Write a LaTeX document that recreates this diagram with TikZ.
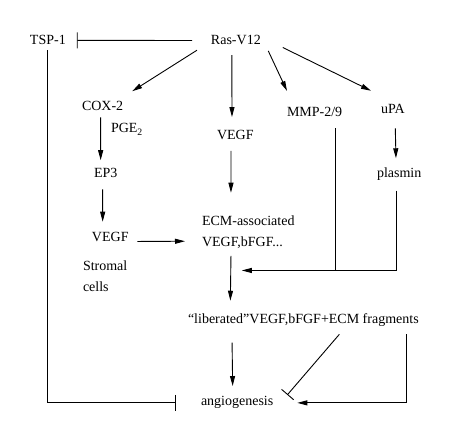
\documentclass[tikz,border=0pt]{standalone}
\usepackage{fontspec}
\setmainfont{Liberation Serif}
\usetikzlibrary{%
  arrows.meta,
  positioning,
  calc}
\tikzset{
  %% Pathway labels
  molnode/.style={
    inner sep=0pt, outer sep=0pt,
    font=\fontsize{14}{21}\selectfont},
  %% Arrows
  arrow/.style={-{Triangle[length=10pt,width=5pt]}, line width=0.9pt, black},
  inhibit/.style={-{Bar[width=16pt]}, line width=0.9pt, black},
  plainline/.style={line width=0.9pt, black},
}
\begin{document}
\begin{tikzpicture}[x=1pt, y=-1pt]

  \useasboundingbox (0,0) rectangle (451,443);

  %% Top row
  \node[molnode, anchor=base west] (tsp) at (30,45) {TSP-1};
  \node[molnode, anchor=base west] (ras) at (211,45) {Ras-V12};

  %% Ras targets
  \node[molnode, anchor=base west] (cox)   at (82,111)  {COX-2};
  \node[molnode, anchor=base west] (pge)   at (111,133) {PGE\textsubscript{2}};
  \node[molnode, anchor=base west] (vegfc) at (217,140) {VEGF};
  \node[molnode, anchor=base west] (mmp)   at (287,117) {MMP-2/9};
  \node[molnode, anchor=base west] (upa)   at (381,114) {uPA};

  %% Stromal branch
  \node[molnode, anchor=base west] (ep3)   at (94,178)  {EP3};
  \node[molnode, anchor=base west] (vegfs) at (92,242)  {VEGF};
  \node[molnode, anchor=north west, align=left] (stromal) at (83,260.4)
        {Stromal\\cells};

  %% Protease branch
  \node[molnode, anchor=base west] (plasmin) at (377,178) {plasmin};

  %% Matrix and outcome
  \node[molnode, anchor=north west, align=left] (ecm) at (202,215.4)
        {ECM-associated\\VEGF,bFGF...};
  \node[molnode, anchor=base west] (lib) at (188,324)
        {“liberated”VEGF,bFGF+ECM fragments};
  \node[molnode, anchor=base west] (ang) at (201,406) {angiogenesis};

  %% TSP-1 loop
  \draw[inhibit, shorten <=19pt, shorten >=11pt] (ras) -- (tsp);
  \draw[inhibit, shorten <=5pt, shorten >=25pt] (tsp.south) |- (ang.west);

  %% Ras-V12 fan
  \draw[arrow] ([xshift=-14pt,yshift=-5pt]ras.south west)
        -- ([xshift=9pt,yshift=10.5pt]cox.north east);
  \draw[arrow] ([xshift=-4pt,yshift=-10pt]ras.south)
        -- ([xshift=-3.3pt,yshift=13.7pt]vegfc.north);
  \draw[arrow] ([xshift=7.5pt,yshift=-5.7pt]ras.south east)
        -- ([yshift=16.8pt]mmp.north west);
  \draw[arrow] ([xshift=22pt,yshift=-2.3pt]ras.south east)
        -- ([xshift=-10pt,yshift=14pt]upa.north west);

  %% Stromal cells
  \draw[arrow] ([xshift=-2pt,yshift=-6.3pt]cox.south)
        -- ([xshift=-5pt,yshift=8.5pt]ep3.north);
  \draw[arrow] ([xshift=-3pt,yshift=-11.3pt]ep3.south)
        -- ([xshift=-7.6pt,yshift=11pt]vegfs.north);
  \draw[arrow] ([xshift=8.7pt,yshift=-4pt]vegfs.east)
        -- ([xshift=-17pt,yshift=-9.4pt]ecm.west);

  %% Into the matrix
  \draw[arrow] ([xshift=-4.3pt,yshift=-10.7pt]vegfc.south)
        -- ([xshift=-17.3pt,yshift=22.7pt]ecm.north);
  \draw[arrow] ([xshift=-17.3pt,yshift=-7.5pt]ecm.south)
        -- ([xshift=-73pt,yshift=13.4pt]lib.north);

  %% Proteases
  \draw[arrow] ([xshift=2.5pt,yshift=-14.3pt]upa.south)
        -- ([xshift=-3.2pt,yshift=10pt]plasmin.north);
  \coordinate (merge)  at ([xshift=-6.5pt,yshift=-22.2pt]ecm.south);
  \coordinate (mmpout) at ([xshift=20.5pt,yshift=-11pt]mmp.south);
  \draw[arrow] ([xshift=-3pt,yshift=-9.7pt]plasmin.south) |- (merge);
  \draw[plainline] (mmpout) -- (mmpout |- merge);

  %% Outcome
  \draw[arrow] ([xshift=-71.3pt,yshift=-15.7pt]lib.south)
        -- ([xshift=-4.5pt,yshift=10.7pt]ang.north);
  \draw[inhibit] ([xshift=36pt,yshift=-7.3pt]lib.south)
        -- ([xshift=14pt,yshift=8pt]ang.east);
  \draw[arrow, shorten >=24pt] ([xshift=-12.7pt,yshift=-7.3pt]lib.south east)
        |- (ang.east);

\end{tikzpicture}
\end{document}
